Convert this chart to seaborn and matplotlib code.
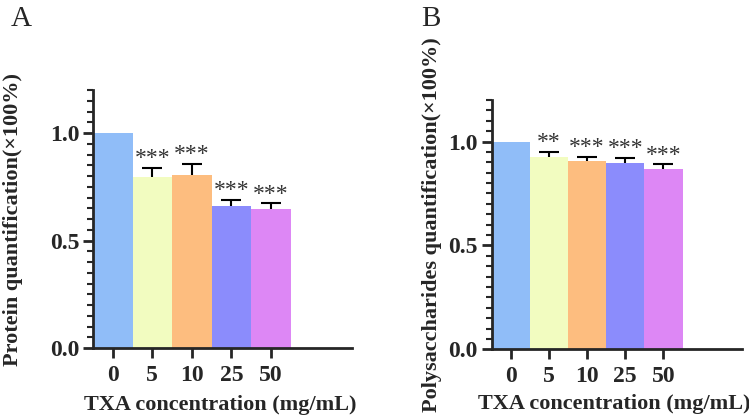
import matplotlib
matplotlib.use("Agg")
import matplotlib.pyplot as plt
import numpy as np
import pandas as pd
import seaborn as sns
from matplotlib.ticker import MultipleLocator

sns.set_theme(style="ticks")
plt.rcParams['font.family'] = ['Liberation Serif', 'DejaVu Serif']

# data
conc = ['0', '5', '10', '25', '50']
protein = [1.0, 0.795, 0.807, 0.660, 0.646]
protein_err = [0.0, 0.043, 0.049, 0.029, 0.027]
protein_sig = ['', '***', '***', '***', '***']
polysac = [1.0, 0.927, 0.908, 0.897, 0.870]
polysac_err = [0.0, 0.023, 0.019, 0.024, 0.022]
polysac_sig = ['', '**', '***', '***', '***']
colors = ['#90BDF8', '#F2FCC0', '#FDBD7F', '#8B8CFC', '#DD87F5']

fig = plt.figure(figsize=(7.49, 4.2), dpi=100)
axA = fig.add_axes([0.1242, 0.1714, 0.3458, 0.6143])
axB = fig.add_axes([0.6565, 0.1683, 0.3337, 0.5936])


def draw(ax, vals, errs, sigs, ylabel, ylab_x):
    df = pd.DataFrame({'conc': conc, 'value': vals})
    sns.barplot(data=df, x='conc', y='value', hue='conc', palette=colors,
                saturation=1, legend=False, width=1.0, errorbar=None,
                linewidth=0, zorder=2, ax=ax)
    pos = np.arange(len(conc))
    # symmetric bars drawn under the bars, so only the upper half shows
    ax.errorbar(pos[1:], vals[1:], yerr=errs[1:],
                fmt='none', ecolor='black', elinewidth=1.5, capsize=7,
                capthick=1.5, zorder=1)
    for p, v, e, s in zip(pos, vals, errs, sigs):
        if s:
            ax.annotate(s, xy=(p, v + e), xytext=(0, 2.5),
                        textcoords='offset points', ha='center',
                        va='baseline', fontsize=17, color='#333333')
    ax.set_xlim(-0.5, 6.05)
    ax.set_ylim(0, 1.2)
    ax.yaxis.set_major_locator(MultipleLocator(0.5))
    ax.yaxis.set_minor_locator(MultipleLocator(0.05))
    ax.yaxis.set_major_formatter(matplotlib.ticker.FormatStrFormatter('%.1f'))
    sns.despine(ax=ax)
    for sp in ['left', 'bottom']:
        ax.spines[sp].set_linewidth(2)
        ax.spines[sp].set_zorder(3)
    ax.tick_params(axis='y', which='major', length=7, width=2, labelsize=17, pad=3)
    ax.tick_params(axis='y', which='minor', length=4, width=1.5)
    ax.tick_params(axis='x', length=7, width=2, labelsize=17, pad=5)
    for lab in ax.get_xticklabels() + ax.get_yticklabels():
        lab.set_fontweight('bold')
    ax.set_xlabel('TXA concentration (mg/mL)', fontsize=16, fontweight='bold')
    ax.set_ylabel(ylabel, fontsize=16, fontweight='bold')
    ax.xaxis.set_label_coords(0.49, -0.22)
    ax.xaxis.label.set_va('center')
    ax.yaxis.set_label_coords(ylab_x, 0.5)
    ax.yaxis.label.set_va('center')


draw(axA, protein, protein_err, protein_sig,
     'Protein quantification(\u00d7100%)', -0.309)
draw(axB, polysac, polysac_err, polysac_sig,
     'Polysaccharides quantification(\u00d7100%)', -0.239)

fig.text(0.014, 0.985, 'A', fontsize=21, va='top', ha='left')
fig.text(0.563, 0.985, 'B', fontsize=21, va='top', ha='left')

fig.savefig('out.png', dpi=100)
